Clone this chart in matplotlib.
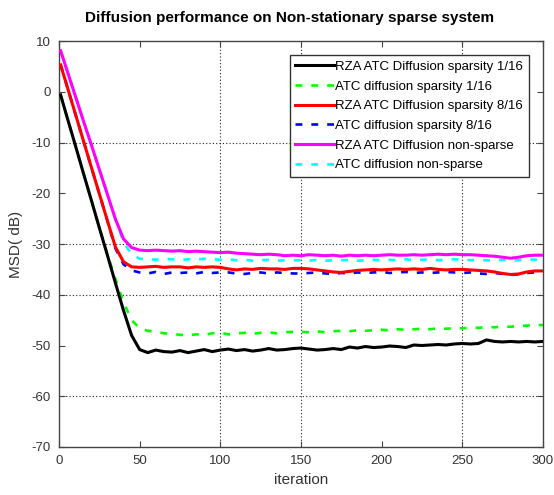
import matplotlib
matplotlib.use("Agg")
import matplotlib.pyplot as plt

plt.rcParams['font.family'] = ['Liberation Sans', 'DejaVu Sans']
plt.rcParams['axes.unicode_minus'] = False

iters = [1] + list(range(5, 301, 5))

# RZA ATC Diffusion sparsity 1/16
rza_116 = [-0.6, -5.0, -10.4, -15.9, -21.3, -26.8, -32.2, -37.7, -43.1, -48.0,
           -50.8, -51.4, -50.9, -51.2, -51.3, -51.0, -51.4, -51.1, -50.8, -51.2,
           -50.9, -50.7, -51.0, -50.8, -51.1, -50.9, -50.6, -50.9, -50.8, -50.6,
           -50.5, -50.7, -50.9, -50.8, -50.6, -50.8, -50.3, -50.5, -50.2, -50.4,
           -50.3, -50.1, -50.2, -50.4, -49.9, -50.0, -49.9, -49.8, -49.9, -49.7,
           -49.6, -49.7, -49.6, -48.9, -49.2, -49.3, -49.2, -49.3, -49.2, -49.3,
           -49.2]
# ATC diffusion sparsity 1/16
atc_116 = [-0.6, -5.0, -10.4, -15.9, -21.3, -26.8, -32.0, -36.9, -41.5, -45.0,
           -46.6, -47.1, -47.3, -47.6, -47.7, -47.9, -48.0, -47.8, -47.9, -47.6,
           -47.5, -47.8, -47.6, -47.5, -47.7, -47.5, -47.4, -47.6, -47.4, -47.3,
           -47.3, -47.4, -47.2, -47.4, -47.2, -47.1, -47.2, -47.0, -47.1, -47.0,
           -46.9, -47.0, -46.8, -46.9, -46.8, -46.7, -46.8, -46.6, -46.7, -46.6,
           -46.6, -46.5, -46.5, -46.4, -46.4, -46.3, -46.3, -46.1, -46.1, -45.9,
           -46.0]
# RZA ATC Diffusion sparsity 8/16
rza_816 = [5.3, 1.1, -4.2, -9.5, -14.8, -20.1, -25.4, -30.6, -33.5, -34.5,
           -34.6, -34.5, -34.4, -34.6, -34.5, -34.5, -34.7, -34.5, -34.6, -34.5,
           -34.6, -34.9, -35.1, -34.9, -35.0, -34.8, -34.9, -34.9, -35.0, -34.8,
           -34.8, -34.9, -35.1, -35.3, -35.5, -35.6, -35.4, -35.2, -35.1, -35.0,
           -35.1, -35.0, -34.9, -35.0, -34.9, -35.0, -34.8, -35.0, -35.1, -35.0,
           -35.0, -35.1, -35.2, -35.3, -35.5, -35.8, -36.0, -35.9, -35.5, -35.3,
           -35.3]
# ATC diffusion sparsity 8/16
atc_816 = [5.3, 1.1, -4.2, -9.5, -14.8, -20.1, -25.4, -30.9, -34.0, -35.2,
           -35.6, -35.8, -35.5, -35.9, -35.6, -35.7, -35.6, -35.8, -35.5, -35.7,
           -35.6, -35.6, -35.8, -35.9, -35.7, -35.6, -35.8, -35.6, -35.7, -35.8,
           -35.8, -35.7, -35.6, -35.8, -35.9, -35.7, -35.8, -35.6, -35.7, -35.6,
           -35.5, -35.7, -35.6, -35.5, -35.7, -35.6, -35.7, -35.6, -35.5, -35.6,
           -35.7, -35.6, -35.8, -35.9, -35.7, -35.9, -36.1, -36.0, -35.7, -35.6,
           -35.6]
# RZA ATC Diffusion non-sparse
rza_ns = [8.1, 4.2, -0.7, -5.6, -10.4, -15.3, -20.2, -25.1, -29.0, -30.7,
          -31.2, -31.3, -31.2, -31.3, -31.4, -31.3, -31.5, -31.4, -31.5, -31.6,
          -31.7, -31.6, -31.8, -31.9, -32.0, -32.1, -32.0, -32.1, -32.3, -32.2,
          -32.3, -32.1, -32.2, -32.3, -32.2, -32.4, -32.2, -32.3, -32.2, -32.3,
          -32.2, -32.1, -32.2, -32.2, -32.1, -32.2, -32.1, -32.0, -32.1, -32.0,
          -32.1, -32.1, -32.2, -32.3, -32.4, -32.6, -32.8, -32.6, -32.3, -32.2,
          -32.2]
# ATC diffusion non-sparse
atc_ns = [8.1, 4.2, -0.7, -5.6, -10.4, -15.3, -20.2, -25.2, -29.6, -32.0,
          -32.9, -33.0, -33.1, -32.9, -33.0, -33.2, -33.0, -33.1, -32.9, -33.0,
          -33.1, -33.0, -33.2, -33.1, -33.3, -33.2, -33.1, -33.3, -33.2, -33.2,
          -33.2, -33.3, -33.1, -33.3, -33.2, -33.2, -33.1, -33.3, -33.2, -33.1,
          -33.2, -33.1, -33.2, -33.0, -33.2, -33.1, -33.0, -33.2, -33.1, -33.0,
          -33.0, -33.2, -33.1, -33.2, -33.3, -33.1, -33.3, -33.2, -33.0, -33.1,
          -33.1]

series = [
    (rza_116, "RZA ATC Diffusion sparsity 1/16", "#000000", "-"),
    (atc_116, "ATC diffusion sparsity 1/16", "#00ff00", "--"),
    (rza_816, "RZA ATC Diffusion sparsity 8/16", "#ff0000", "-"),
    (atc_816, "ATC diffusion sparsity 8/16", "#0000ff", "--"),
    (rza_ns, "RZA ATC Diffusion non-sparse", "#ff00ff", "-"),
    (atc_ns, "ATC diffusion non-sparse", "#00ffff", "--"),
]

fig = plt.figure(figsize=(5.54, 4.95), dpi=100)
ax = fig.add_axes([0.1065, 0.097, 0.8735, 0.820])

for vals, label, col, ls in series:
    if ls == "-":
        ax.plot(iters, vals, color=col, lw=2.2, label=label, zorder=3)
    else:
        ax.plot(iters, vals, color=col, lw=1.9, dashes=(2.6, 3.4),
                label=label, zorder=2)

ax.set_xlim(0, 300)
ax.set_ylim(-70, 10)
ax.set_xticks(range(0, 301, 50))
ax.set_yticks(range(-70, 11, 10))

# MATLAB-like dotted grid, only some lines came out in the original
ax.grid(True, color="#222222", linestyle=(0, (1, 2)), lw=0.8)
for i, gl in enumerate(ax.get_xgridlines()):
    if i in (0, 1, 4, 6):
        gl.set_visible(False)
for i, gl in enumerate(ax.get_ygridlines()):
    if i in (0, 2, 5, 7, 8):
        gl.set_visible(False)

ax.tick_params(direction="in", top=True, right=True, length=4, width=0.8,
               labelsize=9.5, labelcolor="#333333", color="#444444")
ax.tick_params(axis="x", pad=6)
ax.tick_params(axis="y", pad=6)
for sp in ax.spines.values():
    sp.set_color("#444444")
    sp.set_linewidth(1.0)

ax.set_xlabel("iteration", fontsize=11, color="#333333", labelpad=4)
ax.set_ylabel("MSD( dB)", fontsize=11, color="#333333", labelpad=6)

fig.text(0.522, 0.963, "Diffusion performance on Non-stationary sparse system",
         ha="center", va="center", fontsize=11, fontweight="bold")

leg = ax.legend(loc="upper right", bbox_to_anchor=(0.971, 0.966), fontsize=9.5,
                handlelength=2.9, handletextpad=0.1, labelspacing=0.56,
                borderpad=0.45, borderaxespad=0.0, fancybox=False,
                framealpha=1.0, edgecolor="#333333")
leg.get_frame().set_linewidth(1.0)

fig.savefig("out.png", dpi=100)
